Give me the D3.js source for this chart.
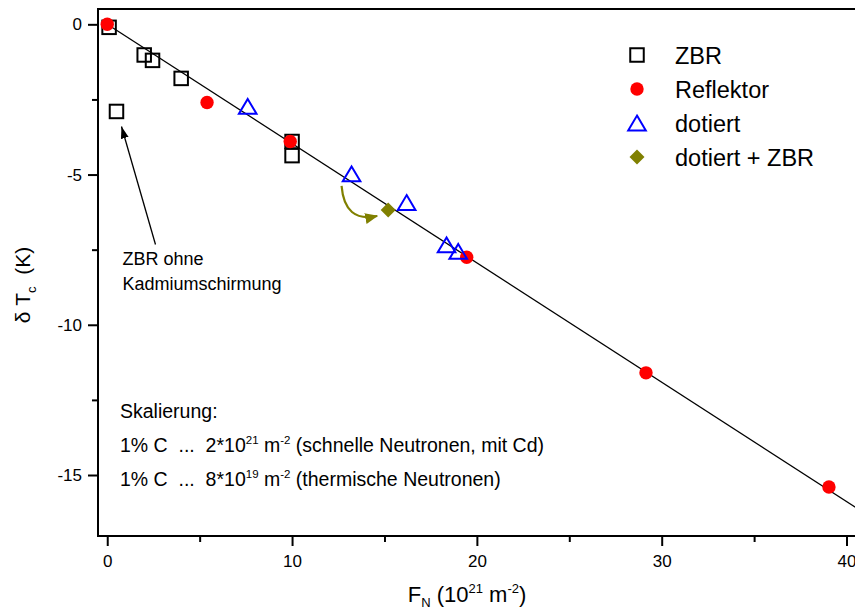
<!DOCTYPE html>
<html><head><meta charset="utf-8">
<script src="https://cdn.jsdelivr.net/npm/d3@7"></script>
<style>
body{margin:0;background:#fff;}
svg{display:block;font-family:"Liberation Sans",Arial,Helvetica,sans-serif;}
text{white-space:pre;}
</style>
</head><body>
<svg id="c" width="855" height="612"></svg>
<script>
// ---- data ----
const zbrX  = [0.1, 2.0, 2.45, 4.0, 0.5, 10.0, 10.0];
const zbrY  = [-0.1, -1.02, -1.2, -1.8, -2.9, -3.9, -4.37];
const reflX = [0, 5.4, 9.9, 19.45, 29.15, 39.05];
const reflY = [0, -2.6, -3.9, -7.75, -11.6, -15.4];
const dotX  = [7.6, 13.22, 16.2, 18.36, 18.99];
const dotY  = [-2.73, -4.98, -5.93, -7.34, -7.56];
const dzX   = [15.2];
const dzY   = [-6.18];
const fitSlope = -0.397, fitIntercept = 0, fitStart = 0, fitEnd = 41;
const xTicks = [0, 10, 20, 30, 40];
const xMinor = [5, 15, 25, 35];
const yTicks = [0, -5, -10, -15];
const yMinor = [-2.5, -7.5, -12.5];
const legendLabels = ["ZBR", "Reflektor", "dotiert", "dotiert + ZBR"];

// ---- layout ----
const svg = d3.select("#c");
const L = 98, T = 9, B = 536, R = 865;
const x = d3.scaleLinear().domain([-0.5, 41]).range([L, R]);
const y = d3.scaleLinear().domain([-17.03, 0.51]).range([B, T]);
const olive = "#808000";
const fmt = d => String(d);

// axes
const gx = svg.append("g").attr("transform", `translate(0,${B})`);
gx.call(d3.axisBottom(x).tickValues(xTicks).tickSize(10).tickPadding(9).tickSizeOuter(0).tickFormat(fmt));
const gxm = svg.append("g").attr("transform", `translate(0,${B})`);
gxm.call(d3.axisBottom(x).tickValues(xMinor).tickSize(6).tickSizeOuter(0).tickFormat(""));
const gy = svg.append("g").attr("transform", `translate(${L},0)`);
gy.call(d3.axisLeft(y).tickValues(yTicks).tickSize(10).tickPadding(6).tickSizeOuter(0).tickFormat(fmt));
const gym = svg.append("g").attr("transform", `translate(${L},0)`);
gym.call(d3.axisLeft(y).tickValues(yMinor).tickSize(6).tickSizeOuter(0).tickFormat(""));
svg.selectAll(".domain").remove();
svg.selectAll(".tick line").attr("stroke", "#000").attr("stroke-width", 2);
svg.selectAll(".tick text").attr("font-size", 17).attr("fill", "#000")
   .attr("font-family", "'Liberation Sans',Arial,sans-serif");

// frame
svg.append("rect").attr("x", L).attr("y", T).attr("width", R - L).attr("height", B - T)
   .attr("fill", "none").attr("stroke", "#000").attr("stroke-width", 2);

// fit line
svg.append("line")
   .attr("x1", x(fitStart)).attr("y1", y(fitIntercept + fitSlope * fitStart))
   .attr("x2", x(fitEnd)).attr("y2", y(fitIntercept + fitSlope * fitEnd))
   .attr("stroke", "#000").attr("stroke-width", 1.3);

// symbol helpers
const sq = 13.5;
function drawSquare(g, cx, cy) {
  g.append("rect").attr("x", cx - sq / 2).attr("y", cy - sq / 2).attr("width", sq).attr("height", sq)
   .attr("fill", "none").attr("stroke", "#000").attr("stroke-width", 2);
}
function drawCircle(g, cx, cy) {
  g.append("circle").attr("cx", cx).attr("cy", cy).attr("r", 6.7).attr("fill", "#ff0000");
}
const triPath = "M0,-7.4L8.8,7.4L-8.8,7.4Z";
function drawTri(g, cx, cy) {
  g.append("path").attr("d", triPath).attr("transform", `translate(${cx},${cy})`)
   .attr("fill", "none").attr("stroke", "#0000ff").attr("stroke-width", 2).attr("stroke-linejoin", "miter");
}
function drawDiamond(g, cx, cy) {
  g.append("path").attr("d", "M0,-7.5L7.5,0L0,7.5L-7.5,0Z").attr("transform", `translate(${cx},${cy})`)
   .attr("fill", olive);
}

const marks = svg.append("g");
zbrX.forEach((v, i) => drawSquare(marks, x(v), y(zbrY[i])));
reflX.forEach((v, i) => drawCircle(marks, x(v), y(reflY[i])));
dotX.forEach((v, i) => drawTri(marks, x(v), y(dotY[i])));
dzX.forEach((v, i) => drawDiamond(marks, x(v), y(dzY[i])));

// legend
const lg = svg.append("g");
const drawers = [drawSquare, drawCircle, drawTri, drawDiamond];
legendLabels.forEach((lab, i) => {
  const cy = 55 + i * 34;
  drawers[i](lg, 637, cy);
  lg.append("text").attr("x", 675).attr("y", cy + 8.5).attr("font-size", 23.5).text(lab);
});

// defs for arrowheads
const defs = svg.append("defs");
defs.append("marker").attr("id", "ahB").attr("viewBox", "0 0 12 8").attr("refX", 12).attr("refY", 4)
  .attr("markerWidth", 12).attr("markerHeight", 8).attr("markerUnits", "userSpaceOnUse").attr("orient", "auto")
  .append("path").attr("d", "M0,0L12,4L0,8Z").attr("fill", "#000");
defs.append("marker").attr("id", "ahO").attr("viewBox", "0 0 13 11").attr("refX", 12).attr("refY", 5.5)
  .attr("markerWidth", 13).attr("markerHeight", 11).attr("markerUnits", "userSpaceOnUse").attr("orient", "auto")
  .append("path").attr("d", "M0,0L13,5.5L0,11Z").attr("fill", olive);

// annotation: ZBR ohne Kadmiumschirmung
const ax0 = x(zbrX[4]), ay0 = y(zbrY[4]);
svg.append("line").attr("x1", ax0 + 39).attr("y1", ay0 + 133).attr("x2", ax0 + 5).attr("y2", ay0 + 15)
   .attr("stroke", "#000").attr("stroke-width", 1.3).attr("marker-end", "url(#ahB)");
svg.append("text").attr("x", ax0 + 6).attr("y", ay0 + 154).attr("font-size", 18).text("ZBR ohne");
svg.append("text").attr("x", ax0 + 6).attr("y", ay0 + 179).attr("font-size", 18).text("Kadmiumschirmung");

// olive curved arrow from triangle to diamond
const tx = x(dotX[1]), ty = y(dotY[1]);
const dx = x(dzX[0]), dy = y(dzY[0]);
svg.append("path")
   .attr("d", `M${tx - 10},${ty + 12} Q${tx - 7},${dy + 13} ${dx - 11},${dy + 6}`)
   .attr("fill", "none").attr("stroke", olive).attr("stroke-width", 2.2).attr("marker-end", "url(#ahO)");

// scaling text
const st = svg.append("g").attr("font-size", 19.5);
st.append("text").attr("x", 120).attr("y", 418).text("Skalierung:");
function scaleLine(yy, mant, exp, rest) {
  const t = st.append("text").attr("x", 120).attr("y", yy);
  t.append("tspan").text("1% C  ...  " + mant + "*10");
  t.append("tspan").attr("font-size", 11.5).attr("dy", -8).text(exp);
  t.append("tspan").attr("dy", 8).text(" m");
  t.append("tspan").attr("font-size", 11.5).attr("dy", -8).text("-2");
  t.append("tspan").attr("dy", 8).text(" " + rest);
}
scaleLine(452, "2", "21", "(schnelle Neutronen, mit Cd)");
scaleLine(486, "8", "19", "(thermische Neutronen)");

// axis titles
const xt = svg.append("text").attr("x", 467).attr("y", 602).attr("text-anchor", "middle").attr("font-size", 22);
xt.append("tspan").text("F");
xt.append("tspan").attr("font-size", 13).attr("dy", 5).text("N");
xt.append("tspan").attr("dy", -5).text(" (10");
xt.append("tspan").attr("font-size", 13).attr("dy", -9).text("21");
xt.append("tspan").attr("dy", 9).text(" m");
xt.append("tspan").attr("font-size", 13).attr("dy", -9).text("-2");
xt.append("tspan").attr("dy", 9).text(")");

const yt = svg.append("text").attr("transform", "translate(30,285) rotate(-90)")
   .attr("text-anchor", "middle").attr("font-size", 21);
yt.append("tspan").text("δ T");
yt.append("tspan").attr("font-size", 13).attr("dy", 6).text("c");
yt.append("tspan").attr("dy", -6).text("  (K)");
</script>
</body></html>
